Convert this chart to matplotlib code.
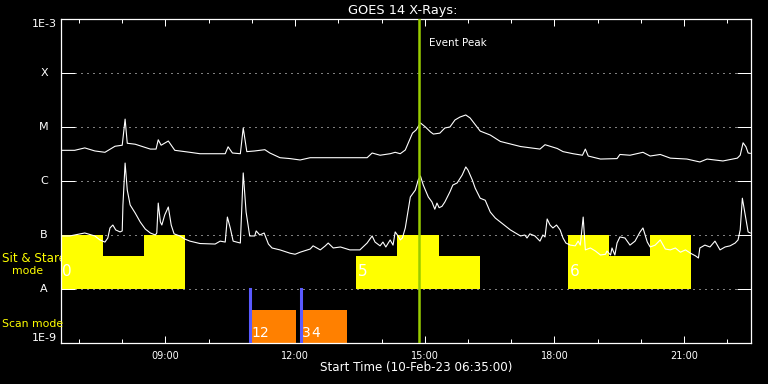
import numpy as np
import matplotlib
matplotlib.use("Agg")
from matplotlib import pyplot as plt
from matplotlib import transforms
from matplotlib.ticker import NullLocator, FixedLocator

# time axis: minutes after start time 10-Feb-23 06:35:00
start_label = "Start Time (10-Feb-23 06:35:00)"
t_end = 958

# GOES 14 long channel (1-8 A), W/m^2
long_min = [0, 19, 33, 47, 61, 75, 85, 89, 92, 103, 124, 132, 135, 139, 149, 158, 179, 193,
            221, 228, 232, 238, 249, 253, 258, 269, 283, 290, 304, 318, 332, 346, 374, 401,
            425, 432, 443, 457, 464, 471, 478, 482, 488, 493, 499, 506, 513, 517, 526, 533,
            540, 547, 554, 562, 568, 582, 596, 610, 638, 665, 672, 689, 697, 711, 724, 728,
            732, 749, 772, 776, 790, 808, 818, 832, 846, 869, 887, 897, 919, 939, 943, 947,
            951, 954, 957]
long_flux = [3.7e-6, 3.7e-6, 4.1e-6, 3.6e-6, 3.4e-6, 4.4e-6, 4.6e-6, 1.4e-5, 5.0e-6, 4.8e-6,
             3.9e-6, 3.9e-6, 5.8e-6, 4.6e-6, 5.5e-6, 3.7e-6, 3.4e-6, 3.2e-6, 3.2e-6, 3.2e-6,
             4.3e-6, 3.3e-6, 3.2e-6, 9.6e-6, 3.5e-6, 3.6e-6, 3.8e-6, 3.3e-6, 2.7e-6, 2.6e-6,
             2.45e-6, 2.7e-6, 2.7e-6, 2.7e-6, 2.7e-6, 3.3e-6, 3.0e-6, 3.2e-6, 3.4e-6, 3.2e-6,
             3.75e-6, 5.0e-6, 7.7e-6, 8.8e-6, 1.19e-5, 1.0e-5, 8.1e-6, 7.4e-6, 7.7e-6, 9.6e-6,
             1.0e-5, 1.35e-5, 1.53e-5, 1.67e-5, 1.47e-5, 8.4e-6, 7.1e-6, 5.4e-6, 4.35e-6, 3.9e-6,
             4.7e-6, 4.0e-6, 3.5e-6, 3.2e-6, 3.0e-6, 3.9e-6, 2.9e-6, 2.55e-6, 2.6e-6, 3.1e-6,
             3.0e-6, 3.4e-6, 2.9e-6, 3.1e-6, 2.65e-6, 2.55e-6, 2.25e-6, 2.55e-6, 2.35e-6, 2.65e-6,
             3.0e-6, 5.1e-6, 4.3e-6, 3.3e-6, 3.25e-6]

# GOES 14 short channel (0.5-4 A), W/m^2
short_min = [0, 12, 33, 47, 54, 61, 65, 68, 72, 76, 82, 85, 86, 89, 92, 96, 103, 110, 117, 124,
             131, 133, 135, 138, 140, 144, 149, 153, 157, 165, 172, 179, 193, 214, 221, 228, 231,
             235, 239, 249, 253, 257, 262, 269, 271, 276, 282, 288, 293, 304, 318, 325, 332, 346,
             350, 360, 367, 371, 378, 388, 401, 415, 425, 432, 436, 443, 447, 451, 457, 461, 464,
             468, 471, 474, 478, 485, 492, 496, 499, 503, 510, 515, 519, 522, 525, 529, 533, 540,
             544, 550, 557, 562, 565, 571, 575, 582, 589, 596, 603, 610, 624, 631, 638, 644, 647,
             651, 658, 665, 669, 672, 675, 679, 683, 688, 693, 697, 701, 707, 714, 718, 721, 725,
             728, 735, 742, 749, 756, 758, 763, 765, 769, 772, 776, 783, 790, 797, 804, 808, 814,
             818, 825, 832, 839, 846, 853, 860, 867, 874, 881, 885, 887, 894, 901, 908, 915, 922,
             929, 936, 940, 943, 946, 950, 954, 957]
short_flux = [9.6e-8, 9.6e-8, 1.09e-7, 9.6e-8, 8.1e-8, 7.4e-8, 8.8e-8, 1.35e-7, 1.53e-7, 1.24e-7,
              1.14e-7, 1.19e-7, 3.6e-7, 2.15e-6, 6.8e-7, 3.6e-7, 2.55e-7, 1.74e-7, 1.29e-7, 1.09e-7,
              1.0e-7, 1.09e-7, 3.9e-7, 1.74e-7, 1.53e-7, 2.35e-7, 3.3e-7, 1.53e-7, 1.05e-7, 9.6e-8,
              8.4e-8, 7.7e-8, 6.95e-8, 6.8e-8, 7.7e-8, 7.4e-8, 2.15e-7, 1.35e-7, 7.7e-8, 7.1e-8,
              1.41e-6, 2.66e-7, 9.6e-8, 9.6e-8, 1.19e-7, 1.0e-7, 1.09e-7, 6.8e-8, 5.75e-8, 5.3e-8,
              4.6e-8, 4.4e-8, 4.8e-8, 5.5e-8, 6.3e-8, 5.3e-8, 6.3e-8, 7.1e-8, 5.75e-8, 6.0e-8,
              5.3e-8, 5.3e-8, 7.1e-8, 9.6e-8, 7.4e-8, 6.3e-8, 7.4e-8, 6.0e-8, 8.1e-8, 6.5e-8,
              1.14e-7, 9.6e-8, 8.1e-8, 8.8e-8, 1.35e-7, 5.05e-7, 6.8e-7, 1.05e-6, 1.24e-6, 8.4e-7,
              5.05e-7, 4.1e-7, 3.0e-7, 3.9e-7, 3.2e-7, 3.4e-7, 4.1e-7, 6.3e-7, 8.4e-7, 9.2e-7,
              1.29e-6, 1.82e-6, 1.6e-6, 1.05e-6, 7.4e-7, 4.8e-7, 4.4e-7, 2.66e-7, 2.06e-7, 1.74e-7,
              1.24e-7, 1.09e-7, 9.6e-8, 1.0e-7, 8.8e-8, 1.05e-7, 9.6e-8, 7.7e-8, 1.0e-7, 9.2e-8,
              1.98e-7, 1.53e-7, 1.35e-7, 1.53e-7, 1.24e-7, 8.8e-8, 7.1e-8, 6.5e-8, 6.3e-8, 7.7e-8,
              6.5e-8, 2.15e-7, 5.3e-8, 5.75e-8, 5.05e-8, 4.26e-8, 4.4e-8, 5.05e-8, 4.26e-8, 5.75e-8,
              4.26e-8, 7.1e-8, 9.2e-8, 8.8e-8, 6.5e-8, 7.7e-8, 1.14e-7, 1.35e-7, 7.4e-8, 6.0e-8,
              6.5e-8, 8.1e-8, 5.5e-8, 5.3e-8, 5.75e-8, 4.8e-8, 5.3e-8, 4.6e-8, 4.1e-8, 3.75e-8,
              5.75e-8, 6.5e-8, 6.0e-8, 7.7e-8, 5.3e-8, 6.0e-8, 6.3e-8, 7.1e-8, 8.1e-8, 1.24e-7,
              4.8e-7, 2.35e-7, 1.14e-7, 1.09e-7]

event_peak_min = 497  # 14:52

# sit & stare observations (step edges in minutes, top level of each step)
stare_ids = ["0", "5", "6"]
stare_edges = [[0, 58, 115, 172], [410, 467, 525, 582], [704, 761, 818, 875]]
stare_tops = [[1e-7, 4.1e-8, 1e-7], [4.1e-8, 1e-7, 4.1e-8], [1e-7, 4.1e-8, 1e-7]]
stare_base = 1e-8

# scan observations
scan_ids = [("1", "2"), ("3", "4")]
scan_start = [264, 335]
scan_end = [326, 397]
scan_marks = [262, 333]
scan_top = 4.1e-9

ylevels = [1e-9, 1e-8, 1e-7, 1e-6, 1e-5, 1e-4, 1e-3]
ylabels = ["1E-9", "A", "B", "C", "M", "X", "1E-3"]
hour_ticks = list(range(25, 958, 60))
major_ticks = [145, 325, 505, 685, 865]
major_labels = ["09:00", "12:00", "15:00", "18:00", "21:00"]

W, H = 768, 384
fig = plt.figure(figsize=(7.68, 3.84), dpi=100, facecolor="black")
ax = fig.add_axes([61 / W, 1 - 343 / H, 690 / W, 324 / H], facecolor="black")
ax.set_yscale("log")
ax.set_xlim(0, t_end)
ax.set_ylim(1e-9, 1e-3)

yellow = "#ffff00"
orange = "#ff8000"

# dotted class levels
for lev in ylevels[1:-1]:
    ax.plot([0.02, 0.98], [lev, lev], transform=ax.get_yaxis_transform(), color="white",
            lw=0.72, dashes=(1, 5), zorder=1)

for sid, edges, tops in zip(stare_ids, stare_edges, stare_tops):
    for i in range(len(tops)):
        ax.fill_between([edges[i], edges[i + 1]], stare_base, tops[i], color=yellow,
                        lw=0, zorder=2)
    ax.text(edges[0] + 2, 2.1e-8, sid, color="white", fontsize=11, va="center", ha="left",
            zorder=6)

for ids, s, e, m in zip(scan_ids, scan_start, scan_end, scan_marks):
    ax.fill_between([s, e], 1e-9, scan_top, color=orange, lw=0, zorder=2)
    ax.plot([m, m], [1e-9, 1e-8], color="#5a5aff", lw=2.2, zorder=3)
    t1 = ax.text(s, 1.53e-9, ids[0], color="white", fontsize=10, va="center", ha="left",
                 zorder=6)
    ax.annotate(ids[1], xy=(1, 0.5), xycoords=t1, color="white", fontsize=10,
                va="center", ha="left", zorder=6)

ax.plot(long_min, long_flux, color="white", lw=0.8, zorder=4)
ax.plot(short_min, short_flux, color="white", lw=0.8, zorder=4)

ax.axvline(event_peak_min, color="#99cc00", lw=1.8, zorder=5)
ax.text(event_peak_min + 14, 0.926, "Event Peak", color="white", fontsize=7.5, va="center",
        ha="left", transform=ax.get_xaxis_transform())

# axes styling
for sp in ax.spines.values():
    sp.set_color("white")
    sp.set_linewidth(0.9)
ax.yaxis.set_minor_locator(NullLocator())
ax.set_yticks(ylevels)
ax.set_yticklabels([])
ax.tick_params(axis="y", which="major", direction="in", length=10, width=0.72,
               colors="white", left=True, right=True)
ax.xaxis.set_major_locator(FixedLocator(major_ticks))
ax.xaxis.set_minor_locator(FixedLocator(hour_ticks))
ax.set_xticklabels(major_labels)
ax.tick_params(axis="x", which="major", direction="in", length=4.7, width=0.72,
               colors="white", top=True, bottom=True, labelsize=7, pad=6)
ax.tick_params(axis="x", which="minor", direction="in", length=2.9, width=0.72,
               colors="white", top=True, bottom=True)

ylab_tr = transforms.blended_transform_factory(fig.transFigure, ax.transData)
for lev, lab in zip(ylevels, ylabels):
    va = "center"
    if lab == "1E-3":
        va = "top"
    elif lab == "1E-9":
        va = "bottom"
    ax.text(44 / W, lev, lab, color="white", fontsize=8, ha="center", va=va,
            transform=ylab_tr, clip_on=False)

fig.text(403 / W, 1 - 14 / H, "GOES 14 X-Rays:", color="white", fontsize=9.3, ha="center",
         va="baseline")
fig.text(416 / W, 1 - 368 / H, start_label, color="white", fontsize=8.6, ha="center",
         va="center")

# left-hand mode labels (the first one runs under the plot frame)
fig.text(2 / W, 1 - 259 / H, "Sit & Stare", color=yellow, fontsize=8.6, ha="left",
         va="center", zorder=-1)
fig.text(12 / W, 1 - 271 / H, "mode", color=yellow, fontsize=7.8, ha="left", va="center")
fig.text(2 / W, 1 - 324 / H, "Scan mode", color=yellow, fontsize=7.8, ha="left", va="center")

fig.savefig("out.png", dpi=100, facecolor="black")
